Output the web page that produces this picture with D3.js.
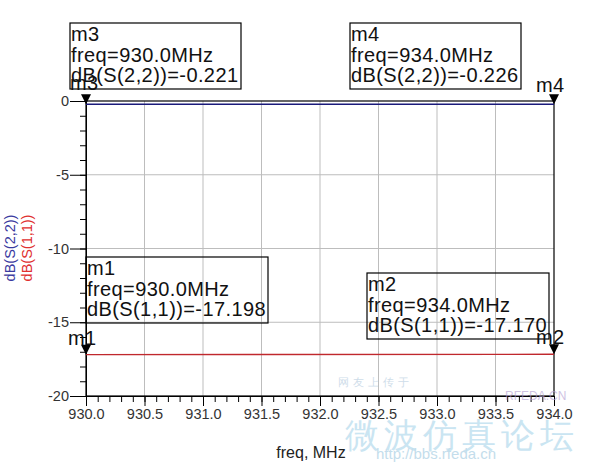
<!DOCTYPE html>
<html><head><meta charset="utf-8">
<script src="https://cdn.jsdelivr.net/npm/d3@7"></script>
<style>body{margin:0;background:#fff}svg{display:block}text{font-family:"Liberation Sans",Arial,sans-serif}</style>
</head><body><svg id="c" width="589" height="466"></svg>
<script>
const freq = [930.0, 934.0];
const s11 = [-17.198, -17.170];
const s22 = [-0.221, -0.226];
const xTicks = [930.0, 930.5, 931.0, 931.5, 932.0, 932.5, 933.0, 933.5, 934.0];
const yTicks = [0, -5, -10, -15, -20];
const markers = [
  {name:"m3", f:930.0, v:-0.221, trace:"dB(S(2,2))"},
  {name:"m4", f:934.0, v:-0.226, trace:"dB(S(2,2))"},
  {name:"m1", f:930.0, v:-17.198, trace:"dB(S(1,1))"},
  {name:"m2", f:934.0, v:-17.170, trace:"dB(S(1,1))"}
];
// layout (positions only)
const boxPos = {m3:[70,23], m4:[350,23], m1:[86,257], m2:[367,273]};
const boxW = {m3:171, m4:171, m1:182, m2:182};
const lblPos = {m3:[70,90], m4:[536,92], m1:[68,345], m2:[536,344]};

const hy = s => s.replace(/\u2212/g,"-");
const svg = d3.select("#c");
const x = d3.scaleLinear().domain([930,934]).range([86,554]);
const y = d3.scaleLinear().domain([0,-20]).range([101,396]);

// grid
svg.append("g").selectAll("line").data(xTicks.slice(1,-1)).join("line")
  .attr("x1",d=>x(d)).attr("x2",d=>x(d)).attr("y1",y(0)).attr("y2",y(-20))
  .attr("stroke","#bdbdbd").attr("stroke-width",1);
svg.append("g").selectAll("line").data(yTicks.slice(1,-1)).join("line")
  .attr("y1",d=>y(d)).attr("y2",d=>y(d)).attr("x1",x(930)).attr("x2",x(934))
  .attr("stroke","#bdbdbd").attr("stroke-width",1);

// frame
svg.append("rect").attr("x",x(930)).attr("y",y(0)).attr("width",x(934)-x(930)).attr("height",y(-20)-y(0))
  .attr("fill","none").attr("stroke","#000").attr("stroke-width",1.2);

// axes
const yMinor = d3.range(0,21).map(d=>-d);
const yAxisG = svg.append("g").attr("transform",`translate(${x(930)},0)`);
yAxisG.call(d3.axisLeft(y).tickValues(yMinor).tickSize(6).tickFormat(""));
yAxisG.append("g").call(d3.axisLeft(y).tickValues(yTicks).tickSize(16).tickFormat(d=>hy(d3.format("d")(d))));
yAxisG.selectAll(".domain").attr("stroke","#000");
yAxisG.selectAll("line").attr("stroke","#000");
yAxisG.selectAll("text").attr("font-size",14.5).attr("fill","#333").attr("font-family","Liberation Sans, Arial").attr("dx",2);

const xMinor = d3.range(0,41).map(i=>930+i*0.1);
const xAxisG = svg.append("g").attr("transform",`translate(0,${y(-20)})`);
xAxisG.call(d3.axisBottom(x).tickValues(xMinor).tickSize(6).tickFormat(""));
xAxisG.append("g").call(d3.axisBottom(x).tickValues(xTicks).tickSize(10).tickPadding(3).tickFormat(d3.format(".1f")));
xAxisG.selectAll(".domain").attr("stroke","#000");
xAxisG.selectAll("line").attr("stroke","#000");
xAxisG.selectAll("text").attr("font-size",14.5).attr("fill","#333").attr("font-family","Liberation Sans, Arial");

// traces
const line = d3.line().x(d=>x(d[0])).y(d=>y(d[1]));
svg.append("path").datum(freq.map((f,i)=>[f,s22[i]])).attr("d",line)
  .attr("fill","none").attr("stroke","#1a1a7a").attr("stroke-width",1.5);
svg.append("path").datum(freq.map((f,i)=>[f,s11[i]])).attr("d",line)
  .attr("fill","none").attr("stroke","#c0282d").attr("stroke-width",1.3);

// axis titles
svg.append("text").attr("transform","translate(311,458)").attr("text-anchor","middle")
  .attr("font-size",16).attr("fill","#222").text("freq, MHz");
svg.append("text").attr("transform","translate(15,248) rotate(-90)").attr("text-anchor","middle")
  .attr("font-size",14.5).attr("fill","#3a3aa0").text("dB(S(2,2))");
svg.append("text").attr("transform","translate(32,248) rotate(-90)").attr("text-anchor","middle")
  .attr("font-size",14.5).attr("fill","#e03030").text("dB(S(1,1))");

// watermark
const wm = svg.append("g").attr("opacity",0.6);
wm.append("text").attr("x",345).attr("y",447).attr("font-size",34).attr("fill","#a8d4ea")
  .attr("font-family","Noto Sans CJK SC").attr("letter-spacing",5).text("微波仿真论坛");
wm.append("text").attr("x",376).attr("y",459).attr("font-size",15).attr("fill","#9cc8e0")
  .attr("font-family","Liberation Mono").text("http://bbs.rfeda.cn");
wm.append("text").attr("x",505).attr("y",400).attr("font-size",12).attr("fill","#b09ad0").text("RFEDA.CN");
wm.append("text").attr("x",338).attr("y",386).attr("font-size",11).attr("fill","#b0c8dc")
  .attr("font-family","Noto Sans CJK SC").attr("letter-spacing",4).text("网友上传于");

// markers
const mg = svg.append("g");
markers.forEach(m=>{
  const px = x(m.f), py = y(m.v);
  mg.append("path").attr("d",`M${px-5},${py-10}L${px+5},${py-10}L${px},${py}Z`).attr("fill","#000");
  const [bx,by] = boxPos[m.name];
  mg.append("rect").attr("x",bx).attr("y",by).attr("width",boxW[m.name]).attr("height",66)
    .attr("fill","none").attr("stroke","#000").attr("stroke-width",1.2);
  const lines = [m.name, "freq=" + d3.format(".1f")(m.f) + "MHz", m.trace + "=" + hy(d3.format(".3f")(m.v))];
  lines.forEach((t,i)=>{
    mg.append("text").attr("x",bx+1).attr("y",by+18+i*20.5).attr("font-size",20)
      .attr("letter-spacing",0.4).attr("fill","#111").text(t);
  });
  const [lx,ly] = lblPos[m.name];
  mg.append("text").attr("x",lx).attr("y",ly).attr("font-size",20).attr("letter-spacing",0.4)
    .attr("fill","#111").text(m.name);
});
</script></body></html>
